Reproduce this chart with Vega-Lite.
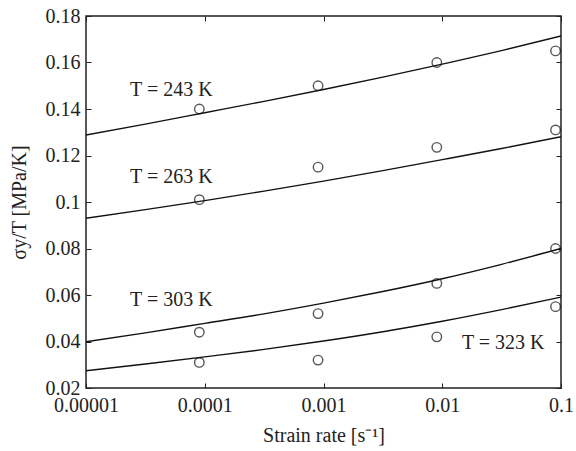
{
  "$schema": "https://vega.github.io/schema/vega-lite/v6.json",
  "width": 475,
  "height": 372,
  "autosize": {"type": "none"},
  "padding": {"left": 86, "top": 16, "right": 15, "bottom": 63},
  "background": "white",
  "config": {
    "font": "Liberation Serif",
    "view": {"stroke": "#222", "strokeWidth": 1.5},
    "axis": {
      "grid": false,
      "domain": false,
      "tickColor": "#222",
      "tickWidth": 1,
      "tickSize": -5,
      "labelFont": "Liberation Serif",
      "labelFontSize": 20,
      "labelColor": "#222",
      "titleFont": "Liberation Serif",
      "titleFontSize": 20,
      "titleFontWeight": "normal",
      "titleColor": "#222"
    }
  },
  "datasets": {
    "curves": [
      {"T": "243", "rate": 0.00001, "v": 0.1288},
      {"T": "243", "rate": 0.0000316, "v": 0.1335},
      {"T": "243", "rate": 0.0001, "v": 0.1384},
      {"T": "243", "rate": 0.000316, "v": 0.1433},
      {"T": "243", "rate": 0.001, "v": 0.1484},
      {"T": "243", "rate": 0.00316, "v": 0.1537},
      {"T": "243", "rate": 0.01, "v": 0.1593},
      {"T": "243", "rate": 0.0316, "v": 0.1651},
      {"T": "243", "rate": 0.1, "v": 0.1714},
      {"T": "263", "rate": 0.00001, "v": 0.0930},
      {"T": "263", "rate": 0.0000316, "v": 0.0967},
      {"T": "263", "rate": 0.0001, "v": 0.1006},
      {"T": "263", "rate": 0.000316, "v": 0.1047},
      {"T": "263", "rate": 0.001, "v": 0.1090},
      {"T": "263", "rate": 0.00316, "v": 0.1135},
      {"T": "263", "rate": 0.01, "v": 0.1182},
      {"T": "263", "rate": 0.0316, "v": 0.1230},
      {"T": "263", "rate": 0.1, "v": 0.1281},
      {"T": "303", "rate": 0.00001, "v": 0.0399},
      {"T": "303", "rate": 0.0000316, "v": 0.0437},
      {"T": "303", "rate": 0.0001, "v": 0.0478},
      {"T": "303", "rate": 0.000316, "v": 0.0519},
      {"T": "303", "rate": 0.001, "v": 0.0565},
      {"T": "303", "rate": 0.00316, "v": 0.0615},
      {"T": "303", "rate": 0.01, "v": 0.0670},
      {"T": "303", "rate": 0.0316, "v": 0.0732},
      {"T": "303", "rate": 0.1, "v": 0.0800},
      {"T": "323", "rate": 0.00001, "v": 0.0274},
      {"T": "323", "rate": 0.0000316, "v": 0.0303},
      {"T": "323", "rate": 0.0001, "v": 0.0334},
      {"T": "323", "rate": 0.000316, "v": 0.0366},
      {"T": "323", "rate": 0.001, "v": 0.0402},
      {"T": "323", "rate": 0.00316, "v": 0.0442},
      {"T": "323", "rate": 0.01, "v": 0.0487},
      {"T": "323", "rate": 0.0316, "v": 0.0537},
      {"T": "323", "rate": 0.1, "v": 0.0591}
    ],
    "points": [
      {"T": "243", "rate": 0.00009, "v": 0.140},
      {"T": "243", "rate": 0.0009, "v": 0.150},
      {"T": "243", "rate": 0.009, "v": 0.160},
      {"T": "243", "rate": 0.09, "v": 0.165},
      {"T": "263", "rate": 0.00009, "v": 0.101},
      {"T": "263", "rate": 0.0009, "v": 0.115},
      {"T": "263", "rate": 0.009, "v": 0.1235},
      {"T": "263", "rate": 0.09, "v": 0.131},
      {"T": "303", "rate": 0.00009, "v": 0.044},
      {"T": "303", "rate": 0.0009, "v": 0.052},
      {"T": "303", "rate": 0.009, "v": 0.065},
      {"T": "303", "rate": 0.09, "v": 0.080},
      {"T": "323", "rate": 0.00009, "v": 0.031},
      {"T": "323", "rate": 0.0009, "v": 0.032},
      {"T": "323", "rate": 0.009, "v": 0.042},
      {"T": "323", "rate": 0.09, "v": 0.055}
    ],
    "labels": [
      {"label": "T = 243 K", "rate": 0.0000235, "v": 0.1482},
      {"label": "T = 263 K", "rate": 0.0000235, "v": 0.1109},
      {"label": "T = 303 K", "rate": 0.0000235, "v": 0.0578},
      {"label": "T = 323 K", "rate": 0.01466, "v": 0.0392}
    ]
  },
  "resolve": {"axis": {"x": "independent", "y": "independent"}},
  "layer": [
    {
      "data": {"name": "curves"},
      "mark": {"type": "line", "color": "#111", "strokeWidth": 1.4, "interpolate": "monotone", "clip": true},
      "encoding": {
        "x": {
          "field": "rate", "type": "quantitative",
          "scale": {"type": "log", "domain": [0.00001, 0.1], "nice": false},
          "axis": {
            "orient": "bottom",
            "values": [0.00001, 0.0001, 0.001, 0.01, 0.1],
            "format": "~f",
            "labelPadding": 12,
            "labelFlush": false,
            "title": "Strain rate [s⁻¹]",
            "titlePadding": 10
          }
        },
        "y": {
          "field": "v", "type": "quantitative",
          "scale": {"domain": [0.02, 0.18], "nice": false, "zero": false},
          "axis": {
            "orient": "left",
            "values": [0.02, 0.04, 0.06, 0.08, 0.1, 0.12, 0.14, 0.16, 0.18],
            "format": ".2~f",
            "labelPadding": 11,
            "labelFlush": false,
            "title": "σy/T [MPa/K]",
            "titlePadding": 16
          }
        },
        "detail": {"field": "T", "type": "nominal"}
      }
    },
    {
      "data": {"name": "points"},
      "mark": {"type": "point", "shape": "circle", "filled": false, "color": "#111", "strokeWidth": 1.4, "size": 90},
      "encoding": {
        "x": {
          "field": "rate", "type": "quantitative",
          "scale": {"type": "log", "domain": [0.00001, 0.1], "nice": false},
          "axis": {"orient": "top", "values": [0.00001, 0.0001, 0.001, 0.01, 0.1], "labels": false, "title": null}
        },
        "y": {
          "field": "v", "type": "quantitative",
          "scale": {"domain": [0.02, 0.18], "nice": false, "zero": false},
          "axis": {"orient": "right", "values": [0.02, 0.04, 0.06, 0.08, 0.1, 0.12, 0.14, 0.16, 0.18], "labels": false, "title": null}
        }
      }
    },
    {
      "data": {"name": "labels"},
      "mark": {"type": "text", "align": "left", "baseline": "middle", "font": "Liberation Serif", "fontSize": 20, "color": "#222"},
      "encoding": {
        "x": {"field": "rate", "type": "quantitative", "scale": {"type": "log", "domain": [0.00001, 0.1], "nice": false}, "axis": null},
        "y": {"field": "v", "type": "quantitative", "scale": {"domain": [0.02, 0.18], "nice": false, "zero": false}, "axis": null},
        "text": {"field": "label", "type": "nominal"}
      }
    }
  ]
}
